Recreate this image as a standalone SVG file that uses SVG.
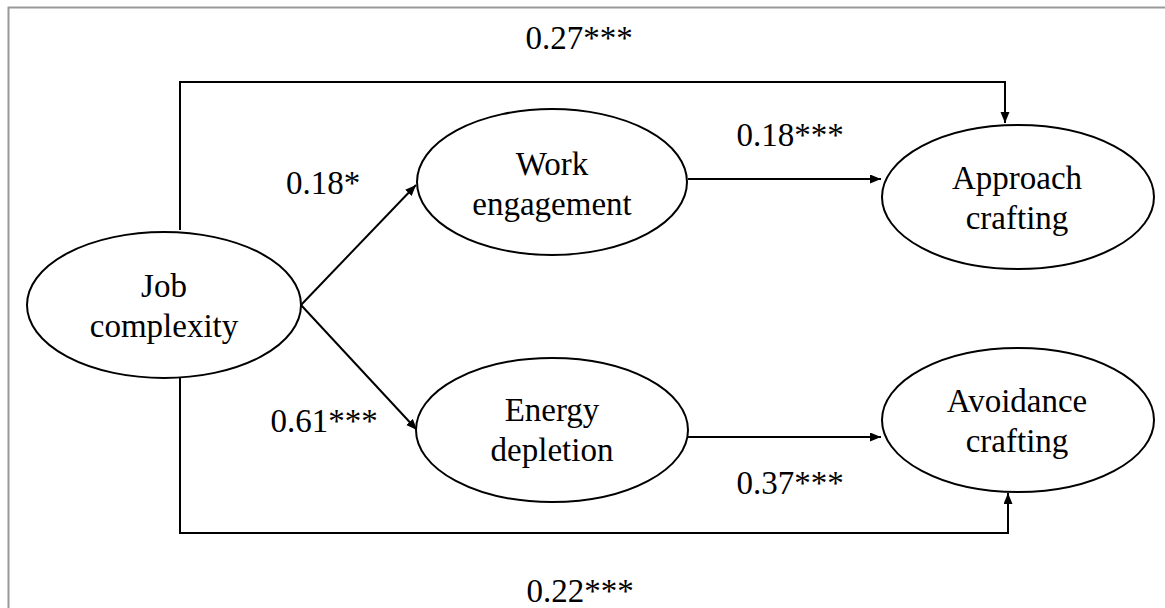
<svg xmlns="http://www.w3.org/2000/svg" width="1165" height="608" viewBox="0 0 1165 608">
<defs>
<marker id="arr" markerUnits="userSpaceOnUse" markerWidth="12" markerHeight="10" refX="11" refY="4.5" orient="auto">
<path d="M0,0 L11,4.5 L0,9 z" fill="#000"/>
</marker>
<style>
.n{fill:#fff;stroke:#000;stroke-width:2}
.t{font-family:'Liberation Serif','Times New Roman',serif;font-size:33px;fill:#000;text-anchor:middle}
.c{fill:none;stroke:#000;stroke-width:2}
</style>
</defs>
<rect width="1165" height="608" fill="#fff"/>
<path d="M8.5,608 V7.5 H1165" fill="none" stroke="#999" stroke-width="2"/>
<g id="connectors">
<path class="c" d="M180,230 V82 H1005 V123" marker-end="url(#arr)"/>
<path class="c" d="M180,377 V533 H1008 V493" marker-end="url(#arr)"/>
<path class="c" d="M301,305 L416,185" marker-end="url(#arr)"/>
<path class="c" d="M301,305 L417,430" marker-end="url(#arr)"/>
<path class="c" d="M688,179 H881" marker-end="url(#arr)"/>
<path class="c" d="M688,437 H881" marker-end="url(#arr)"/>
</g>
<g id="labels" font-family="Liberation Serif, serif">
<text class="t" x="579" y="49">0.27***</text>
<text class="t" x="323" y="194">0.18*</text>
<text class="t" x="790" y="146">0.18***</text>
<text class="t" x="324" y="432">0.61***</text>
<text class="t" x="790" y="494">0.37***</text>
<text class="t" x="580" y="602">0.22***</text>
</g>
<g id="job-complexity">
<ellipse class="n" cx="164" cy="305" rx="137" ry="73"/>
<text class="t" x="164" y="297">Job</text>
<text class="t" x="164" y="337">complexity</text>
</g>
<g id="work-engagement">
<ellipse class="n" cx="552" cy="182" rx="135" ry="73"/>
<text class="t" x="552" y="175">Work</text>
<text class="t" x="552" y="215">engagement</text>
</g>
<g id="energy-depletion">
<ellipse class="n" cx="552" cy="430" rx="136" ry="72"/>
<text class="t" x="552" y="421">Energy</text>
<text class="t" x="552" y="461">depletion</text>
</g>
<g id="approach-crafting">
<ellipse class="n" cx="1018" cy="197" rx="136" ry="72"/>
<text class="t" x="1017" y="189">Approach</text>
<text class="t" x="1017" y="229">crafting</text>
</g>
<g id="avoidance-crafting">
<ellipse class="n" cx="1018" cy="420" rx="136" ry="72"/>
<text class="t" x="1017" y="412">Avoidance</text>
<text class="t" x="1017" y="452">crafting</text>
</g>
</svg>
